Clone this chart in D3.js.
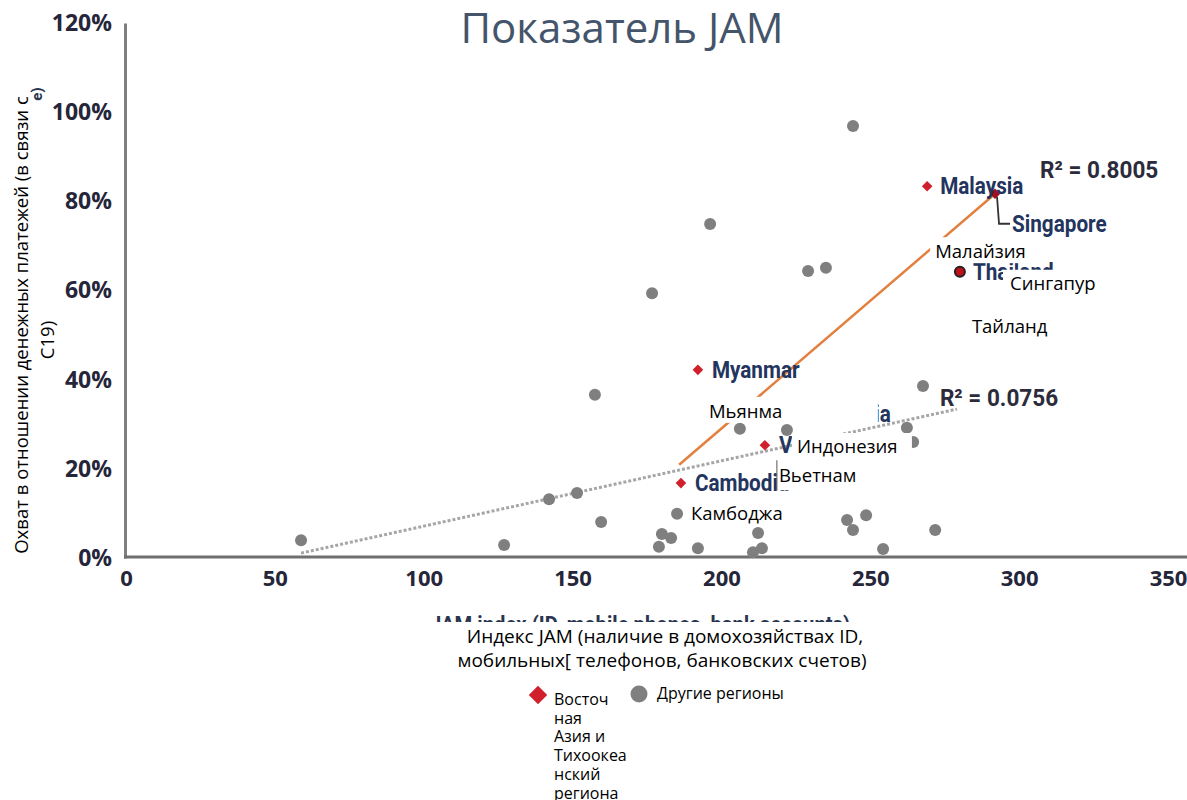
<!DOCTYPE html>
<html><head><meta charset="utf-8">
<script src="https://cdn.jsdelivr.net/npm/d3@7"></script>
<style>body{margin:0;background:#fff} svg{display:block}</style>
</head><body><svg id="c" width="1187" height="800"></svg>
<script>
// ---------- data ----------
const xTicks = [0, 50, 100, 150, 200, 250, 300, 350];
const yTicks = [0, 20, 40, 60, 80, 100, 120];
// other regions (JAM index, coverage %)
const otherX = [58.8,127.0,142.1,151.5,157.5,159.6,176.7,196.2,180.0,183.1,179.0,185.1,192.1,206.2,212.3,213.6,210.6,222.0,229.1,235.1,244.2,242.2,244.2,248.6,254.3,262.3,264.4,267.7,271.8];
const otherY = [4.0,2.9,13.2,14.6,36.6,8.1,59.4,74.9,5.4,4.5,2.5,9.9,2.2,29.0,5.6,2.2,1.3,28.7,64.4,65.1,96.9,8.5,6.3,9.6,2.0,29.2,26.0,38.6,6.3];
// East Asia & Pacific
const eapNames = ["Malaysia","Singapore","Thailand","Myanmar","Indonesia","Vietnam","Cambodia"];
const eapX = [269.1,291.9,280.1,192.1,218.3,214.6,186.4];
const eapY = [83.4,81.7,64.2,42.2,32.3,25.3,16.8];
const ruNames = ["Малайзия","Сингапур","Тайланд","Мьянма","Индонезия","Вьетнам","Камбоджа"];
// trend lines
const trendEapX = [185.8, 291.9], trendEapY = [20.9, 81.7];
const trendAllX = [58.8, 279.1], trendAllY = [1.1, 33.4];
const r2Labels = ["R² = 0.8005", "R² = 0.0756"];
const legendLabels = ["Восточ|ная|Азия и|Тихоокеа|нский|региона", "Другие регионы"];

// ---------- layout ----------
const svg = d3.select("#c");
const x = d3.scaleLinear().domain([0, 350]).range([126, 1168]);
const y = d3.scaleLinear().domain([0, 120]).range([558, 23]);
const RU = "'Open Sans', sans-serif";
const NARROW = "'Roboto', 'Liberation Sans', sans-serif";

// title
svg.append("text").attr("x", 622).attr("y", 43).attr("text-anchor", "middle")
  .attr("font-family", RU).attr("font-size", 42).attr("fill", "#44546a").text("Показатель JAM");

// axes
const yAxis = d3.axisLeft(y).tickValues(yTicks).tickSize(0).tickPadding(13).tickFormat(d => d + "%");
const gy = svg.append("g").attr("transform", "translate(125,0)").call(yAxis);
gy.select(".domain").attr("stroke", "#7f7f7f").attr("stroke-width", 3);
gy.selectAll("text").attr("font-family", RU).attr("font-weight", 700).attr("font-size", 23).attr("fill", "#26263a");

const xAxis = d3.axisBottom(x).tickValues(xTicks).tickSize(0).tickPadding(13);
const gx = svg.append("g").attr("transform", "translate(0,557)").call(xAxis);
gx.select(".domain").remove();
gx.selectAll("text").attr("font-family", RU).attr("font-weight", 700).attr("font-size", 22).attr("fill", "#26263a");
svg.append("line").attr("x1", 124).attr("x2", 1187).attr("y1", 557).attr("y2", 557)
  .attr("stroke", "#6f6f6f").attr("stroke-width", 3);

// residue of the original English axis titles
svg.append("text").attr("transform", "translate(640,632) scale(0.92,1)").attr("text-anchor", "middle")
  .attr("font-family", NARROW).attr("font-weight", 700).attr("font-size", 22).attr("fill", "#2a3550")
  .text("JAM index (ID, mobile phones, bank accounts)");
svg.append("rect").attr("x", 410).attr("y", 622).attr("width", 480).attr("height", 60).attr("fill", "#fff");
svg.append("text").attr("transform", "translate(42,94) rotate(-90)").attr("text-anchor", "middle")
  .attr("font-family", NARROW).attr("font-weight", 700).attr("font-size", 15).attr("fill", "#2a3550").text("e)");

// y title (Russian)
svg.append("text").attr("transform", "translate(28,325) rotate(-90)").attr("text-anchor", "middle")
  .attr("font-family", RU).attr("font-size", 18.5).attr("fill", "#000")
  .text("Охват в отношении денежных платежей (в связи с");
svg.append("text").attr("transform", "translate(54,340) rotate(-90)").attr("text-anchor", "middle")
  .attr("font-family", RU).attr("font-size", 18.5).attr("fill", "#000").text("С19)");

// x title (Russian)
svg.append("text").attr("x", 665).attr("y", 643).attr("text-anchor", "middle")
  .attr("font-family", RU).attr("font-size", 19).attr("fill", "#000").text("Индекс JAM (наличие в домохозяйствах ID,");
svg.append("text").attr("x", 662).attr("y", 667).attr("text-anchor", "middle")
  .attr("font-family", RU).attr("font-size", 19).attr("fill", "#000").text("мобильных[ телефонов, банковских счетов)");

// trend lines
const line = d3.line().x(d => x(d[0])).y(d => y(d[1]));
svg.append("path").datum(trendAllX.map((v, i) => [v, trendAllY[i]])).attr("d", line)
  .attr("fill", "none").attr("stroke", "#a6a6a6").attr("stroke-width", 3).attr("stroke-dasharray", "3,2");
svg.append("path").datum(trendEapX.map((v, i) => [v, trendEapY[i]])).attr("d", line)
  .attr("fill", "none").attr("stroke", "#e2803f").attr("stroke-width", 2.5);

// other points
svg.append("g").selectAll("circle").data(otherX.map((v, i) => [v, otherY[i]])).join("circle")
  .attr("cx", d => x(d[0])).attr("cy", d => y(d[1])).attr("r", 6).attr("fill", "#7f7f7f");

// EAP points
const eap = eapNames.map((n, i) => ({ name: n, ru: ruNames[i], x: eapX[i], y: eapY[i] }));
const diamond = d3.symbol().type(d3.symbolSquare).size(56);
svg.append("g").selectAll("path").data(eap.filter(d => d.name !== "Thailand")).join("path")
  .attr("transform", d => `translate(${x(d.x)},${y(d.y)}) rotate(45)`).attr("d", diamond)
  .attr("fill", d => d.name === "Singapore" ? "#a01020" : "#d0202c");
const th = eap.find(d => d.name === "Thailand");
svg.append("circle").attr("cx", x(th.x)).attr("cy", y(th.y)).attr("r", 5)
  .attr("fill", "#c0101c").attr("stroke", "#222").attr("stroke-width", 2);

// English labels
const lblOff = { Malaysia: [13, 8], Singapore: [17, 38], Thailand: [13, 8], Myanmar: [14, 8],
  Indonesia: [24, 8], Vietnam: [14, 8], Cambodia: [14, 8] };
svg.append("g").selectAll("text").data(eap).join("text")
  .attr("transform", d => `translate(${x(d.x) + lblOff[d.name][0]},${y(d.y) + lblOff[d.name][1]}) scale(0.9,1)`)
  .attr("font-family", NARROW).attr("font-weight", 700).attr("font-size", 23).attr("fill", "#23355e")
  .text(d => d.name);
const sg = eap.find(d => d.name === "Singapore");
svg.append("path").attr("d", `M${x(sg.x) + 2},${y(sg.y) + 3} L${x(sg.x) + 4},${y(sg.y) + 30} L${x(sg.x) + 15},${y(sg.y) + 30}`)
  .attr("fill", "none").attr("stroke", "#333").attr("stroke-width", 1.8);

// R² labels
svg.append("text").attr("transform", `translate(${x(trendEapX[1]) + 45},${y(trendEapY[1]) - 16}) scale(0.94,1)`)
  .attr("font-family", NARROW).attr("font-weight", 700).attr("font-size", 24).attr("fill", "#2b2b3b").text(r2Labels[0]);
svg.append("text").attr("transform", `translate(${x(trendAllX[1]) - 17},${y(trendAllY[1]) - 3}) scale(0.94,1)`)
  .attr("font-family", NARROW).attr("font-weight", 700).attr("font-size", 24).attr("fill", "#2b2b3b").text(r2Labels[1]);

// Russian overlay boxes (text boxes with white fill), offsets relative to each point
const box = {
  Malaysia:  { bx: 3,   by: 51,  w: 100, h: 26, tx: 8,   ty: 72 },
  Singapore: { bx: 8,   by: 76,  w: 100, h: 26, tx: 15,  ty: 96 },
  Thailand:  { bx: 5,   by: 41,  w: 90,  h: 26, tx: 12,  ty: 61 },
  Myanmar:   { bx: 5,   by: 27,  w: 175, h: 26, tx: 11,  ty: 48 },
  Indonesia: { bx: 16,  by: 19,  w: 120, h: 27, tx: 21,  ty: 39 },
  Vietnam:   { bx: 12,  by: 15,  w: 85,  h: 30, tx: 14,  ty: 37 },
  Cambodia:  { bx: 5,   by: 17,  w: 104, h: 26, tx: 10,  ty: 37 }
};
const og = svg.append("g").selectAll("g").data(eap).join("g")
  .attr("transform", d => `translate(${x(d.x)},${y(d.y)})`);
og.append("rect").attr("x", d => box[d.name].bx).attr("y", d => box[d.name].by)
  .attr("width", d => box[d.name].w).attr("height", d => box[d.name].h).attr("fill", "#fff");
og.append("text").attr("x", d => box[d.name].tx).attr("y", d => box[d.name].ty)
  .attr("font-family", RU).attr("font-size", 18.5).attr("fill", "#000").text(d => d.ru);
const vn = eap.find(d => d.name === "Vietnam");
svg.append("line").attr("x1", x(vn.x) + 12).attr("x2", x(vn.x) + 12).attr("y1", y(vn.y) + 15).attr("y2", y(vn.y) + 45)
  .attr("stroke", "#555").attr("stroke-width", 1);

// legend
const lg = svg.append("g");
lg.append("path").attr("transform", "translate(538,695) rotate(45)").attr("d", d3.symbol().type(d3.symbolSquare).size(170)).attr("fill", "#d0202c");
lg.append("text").attr("font-family", RU).attr("font-size", 16).attr("fill", "#000")
  .selectAll("tspan").data(legendLabels[0].split("|")).join("tspan")
  .attr("x", 554).attr("y", (d, i) => 705 + i * 18.7).text(d => d);
lg.append("circle").attr("cx", 639).attr("cy", 694).attr("r", 8.5).attr("fill", "#7f7f7f");
lg.append("text").attr("x", 657).attr("y", 699).attr("font-family", RU).attr("font-size", 16).attr("fill", "#000").text(legendLabels[1]);
</script></body></html>
